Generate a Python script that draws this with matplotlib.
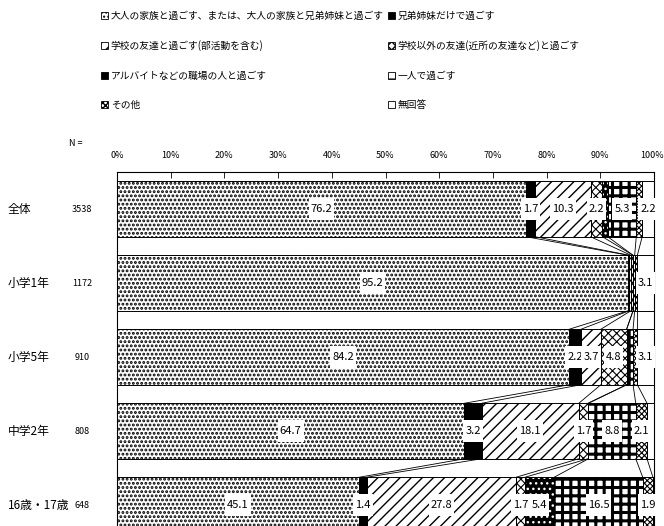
import matplotlib
matplotlib.use("Agg")
import matplotlib.pyplot as plt
import matplotlib.transforms as mtransforms
from matplotlib.patches import Patch
from matplotlib.path import Path
import numpy as np

plt.rcParams['font.family'] = ['Liberation Sans Narrow', 'Noto Sans CJK JP', 'DejaVu Sans']

groups = ["全体", "小学1年", "小学5年", "中学2年", "16歳・17歳"]
n_values = [3538, 1172, 910, 808, 648]
series_names = [
    "大人の家族と過ごす、または、大人の家族と兄弟姉妹と過ごす",
    "兄弟姉妹だけで過ごす",
    "学校の友達と過ごす(部活動を含む)",
    "学校以外の友達(近所の友達など)と過ごす",
    "アルバイトなどの職場の人と過ごす",
    "一人で過ごす",
    "その他",
    "無回答",
]
adult_family = [76.2, 95.2, 84.2, 64.7, 45.1]
siblings_only = [1.7, 0.2, 2.2, 3.2, 1.4]
school_friends = [10.3, 0.3, 3.7, 18.1, 27.8]
other_friends = [2.2, 0.4, 4.8, 1.7, 1.7]
part_time_job = [1.0, 0.0, 0.0, 0.1, 5.4]
alone = [5.3, 0.3, 1.2, 8.8, 16.5]
other = [1.1, 0.5, 0.8, 2.1, 1.9]
no_answer = [2.2, 3.1, 3.1, 1.3, 0.2]
x_ticks = [0, 10, 20, 30, 40, 50, 60, 70, 80, 90, 100]

series = [adult_family, siblings_only, school_friends, other_friends,
          part_time_job, alone, other, no_answer]
values = np.array(series).T  # rows = groups

# (face, hatch colour, hatch, hatch linewidth)
styles = [
    ("white", "black", "....", 1.4),
    ("black", "black", None, 1.0),
    ("white", "black", "///", 1.0),
    ("white", "black", "xxxx", 0.8),
    ("black", "white", "...", 1.0),
    ("white", "black", "++", 2.2),
    ("white", "black", "xxxxxx", 0.8),
    ("white", "black", None, 1.0),
]


def tall_box(x0, y0, width, height, mutation_size):
    # white label box, taller than wide like the original data labels
    px, py = 0.18 * mutation_size, 0.5 * mutation_size
    x0, y0 = x0 - px, y0 - py
    x1, y1 = x0 + width + 2 * px, y0 + height + 2 * py
    return Path([(x0, y0), (x1, y0), (x1, y1), (x0, y1), (x0, y0)], closed=True)


fig = plt.figure(figsize=(6.64, 5.26), dpi=100)
W, H = 664, 526
top_px, band_px = 172, 74
ax = fig.add_axes([117 / W, (H - top_px - 5 * band_px) / H, 537 / W, 5 * band_px / H])

y = np.arange(len(groups))
bar_h = 0.75
left = np.zeros(len(groups))

for j, (face, hcol, hatch, hlw) in enumerate(styles):
    bars = ax.barh(y, values[:, j], left=left, height=bar_h, color=face,
                   edgecolor=hcol, linewidth=0, hatch=hatch, zorder=2)
    for b in bars:
        if hasattr(b, "set_hatch_linewidth"):
            b.set_hatch_linewidth(hlw)
    ax.barh(y, values[:, j], left=left, height=bar_h, fill=False,
            edgecolor="black", linewidth=0.7, zorder=3)
    for i in range(len(groups)):
        v = values[i, j]
        if v >= 1.35:
            ax.text(left[i] + v / 2, y[i], f"{v:.1f}", ha="center", va="center",
                    fontsize=8, zorder=5,
                    bbox=dict(boxstyle=tall_box, facecolor="white", edgecolor="none"))
    left = left + values[:, j]

# series lines between neighbouring bars
cum = np.cumsum(values, axis=1)
for i in range(len(groups) - 1):
    for k in range(len(series) - 1):
        ax.plot([cum[i, k], cum[i + 1, k]], [y[i] + bar_h / 2, y[i + 1] - bar_h / 2],
                color="black", linewidth=0.6, zorder=4)

ax.set_xlim(0, 100)
ax.set_ylim(len(groups) - 0.5, -0.5)
ax.set_xticks(x_ticks)
ax.set_xticklabels([f"{t}%" for t in x_ticks])
ax.xaxis.tick_top()
ax.tick_params(axis="x", direction="in", length=4, width=0.6, labelsize=6.5, pad=9)
last = ax.get_xticklabels()[-1]
last.set_transform(last.get_transform() +
                   mtransforms.ScaledTranslation(-2 / 100, 0, fig.dpi_scale_trans))
ax.set_yticks([])
for s in ["top", "left", "right"]:
    ax.spines[s].set_linewidth(0.8)
ax.spines["bottom"].set_visible(False)

# group labels and N
trans = mtransforms.blended_transform_factory(fig.transFigure, ax.transData)
for i, (g, n) in enumerate(zip(groups, n_values)):
    ax.text(8 / W, y[i], g, transform=trans, ha="left", va="center", fontsize=8.5,
            clip_on=False)
    ax.text(82 / W, y[i], str(n), transform=trans, ha="center", va="center",
            fontsize=6.5, clip_on=False)
fig.text(76 / W, 1 - 143 / H, "N =", ha="center", va="center", fontsize=6.5)

# legend, filled row by row
handles = []
for name, (face, hcol, hatch, hlw) in zip(series_names, styles):
    handles.append(Patch(facecolor=face, edgecolor="black", hatch=hatch,
                         linewidth=0.6, label=name))
order = [0, 2, 4, 6, 1, 3, 5, 7]
fig.legend([handles[k] for k in order], [series_names[k] for k in order],
           loc="upper left", bbox_to_anchor=(101 / W, 1 - 11 / H), ncol=2,
           frameon=False, fontsize=7, handlelength=0.75, handleheight=0.75,
           handletextpad=0.25, columnspacing=0.4, labelspacing=2.0, borderpad=0,
           borderaxespad=0)

fig.savefig("out.png", dpi=100)
